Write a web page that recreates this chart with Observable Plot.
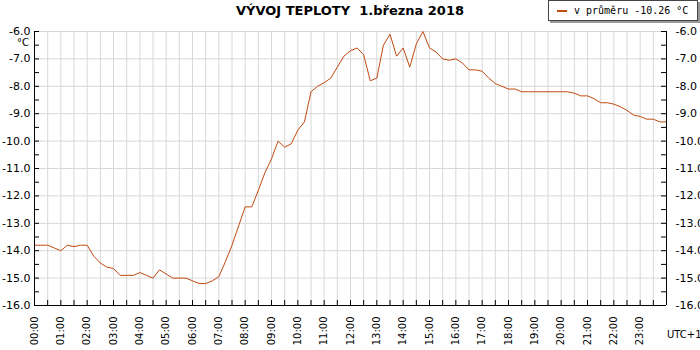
<!DOCTYPE html>
<html><head><meta charset="utf-8">
<script src="https://cdn.jsdelivr.net/npm/d3@7"></script>
<script src="https://cdn.jsdelivr.net/npm/@observablehq/plot@0.6"></script>
<style>
body{margin:0;background:#fff;}
#wrap{position:relative;width:700px;height:350px;overflow:hidden;font-family:"DejaVu Sans",sans-serif;color:#000;}
#title{position:absolute;left:0;width:700px;top:3px;text-align:center;font-weight:bold;font-size:13px;white-space:pre;}
#legend{position:absolute;left:548px;top:0;width:148px;height:19px;border:1px solid #444;background:#fff;box-shadow:2px 2px 0 #999;font-family:"DejaVu Sans Mono",monospace;font-size:10px;line-height:19px;white-space:pre;}
#legend .sw{display:inline-block;width:10px;height:2px;background:#c04a10;vertical-align:middle;margin:0 7px 0 8px;}
#unit{position:absolute;left:17px;top:38px;font-size:10px;line-height:10px;}
#utc{position:absolute;left:667px;top:329px;font-size:10px;}
#plot{position:absolute;left:0;top:0;}
</style></head>
<body>
<div id="wrap">
  <div id="plot"></div>
  <div id="title">VÝVOJ TEPLOTY  1.března 2018</div>
  <div id="legend"><span class="sw"></span>v průměru -10.26 °C</div>
  <div id="unit">°C</div>
  <div id="utc">UTC+1</div>
</div>
<script>
const times = ["00:00","00:15","00:30","00:45","01:00","01:15","01:30","01:45","02:00","02:15","02:30","02:45",
"03:00","03:15","03:30","03:45","04:00","04:15","04:30","04:45","05:00","05:15","05:30","05:45",
"06:00","06:15","06:30","06:45","07:00","07:15","07:30","07:45","08:00","08:15","08:30","08:45",
"09:00","09:15","09:30","09:45","10:00","10:15","10:30","10:45","11:00","11:15","11:30","11:45",
"12:00","12:15","12:30","12:45","13:00","13:15","13:30","13:45","14:00","14:15","14:30","14:45",
"15:00","15:15","15:30","15:45","16:00","16:15","16:30","16:45","17:00","17:15","17:30","17:45",
"18:00","18:15","18:30","18:45","19:00","19:15","19:30","19:45","20:00","20:15","20:30","20:45",
"21:00","21:15","21:30","21:45","22:00","22:15","22:30","22:45","23:00","23:15","23:30","23:45","24:00"];
const temps = [-13.8,-13.8,-13.8,-13.9,-14.0,-13.8,-13.85,-13.8,-13.8,-14.2,-14.45,-14.6,
-14.65,-14.9,-14.9,-14.9,-14.8,-14.9,-15.0,-14.7,-14.85,-15.0,-15.0,-15.0,
-15.1,-15.2,-15.2,-15.1,-14.95,-14.4,-13.8,-13.1,-12.4,-12.4,-11.8,-11.15,
-10.65,-10.0,-10.22,-10.1,-9.6,-9.3,-8.2,-8.0,-7.87,-7.7,-7.3,-6.9,
-6.7,-6.6,-6.85,-7.8,-7.7,-6.5,-6.1,-6.9,-6.6,-7.3,-6.45,-6.0,
-6.6,-6.75,-7.0,-7.05,-7.0,-7.15,-7.4,-7.4,-7.45,-7.7,-7.9,-8.0,
-8.1,-8.1,-8.2,-8.2,-8.2,-8.2,-8.2,-8.2,-8.2,-8.2,-8.25,-8.35,
-8.35,-8.45,-8.6,-8.6,-8.65,-8.75,-8.88,-9.05,-9.1,-9.2,-9.2,-9.3,-9.3];
const xTickLabels = ["00:00","01:00","02:00","03:00","04:00","05:00","06:00","07:00","08:00","09:00","10:00","11:00",
"12:00","13:00","14:00","15:00","16:00","17:00","18:00","19:00","20:00","21:00","22:00","23:00"];
const yTickLabels = ["-6.0","-7.0","-8.0","-9.0","-10.0","-11.0","-12.0","-13.0","-14.0","-15.0","-16.0"];
const halfHourLabels = times.filter(t => t.endsWith(":00") || t.endsWith(":30"));
const lineColor = "#c04a10";

const toH = s => { const [h, m] = s.split(":").map(Number); return h + m / 60; };
const data = times.map((t, i) => ({h: toH(t), t: temps[i]}));
const xTicks = xTickLabels.map(toH);
const yTicks = yTickLabels.map(Number);
const halfHours = halfHourLabels.map(toH).filter(h => h > 0 && h < 24);
const yMinor = [];
yTicks.forEach(v => { yMinor.push(v); if (v > -16) yMinor.push(v - 0.5); });

const W = 700, H = 350, mL = 34, mR = 34, mT = 31, mB = 45;
const fw = W - mL - mR, fh = H - mT - mB;

const chart = Plot.plot({
  width: W, height: H,
  marginLeft: mL, marginRight: mR, marginTop: mT, marginBottom: mB,
  style: {fontFamily: "DejaVu Sans, sans-serif", background: "#fff", color: "#000"},
  x: {domain: [0, 24], axis: null},
  y: {domain: [-16, -6], axis: null},
  marks: [
    Plot.gridY(yTicks, {stroke: "#d8d8d8", strokeOpacity: 1, strokeWidth: 1}),
    Plot.gridX(halfHours, {stroke: "#d8d8d8", strokeOpacity: 1, strokeWidth: 1}),
    Plot.line(data, {x: "h", y: "t", stroke: lineColor, strokeWidth: 1}),
    Plot.ruleX([0, 24], {stroke: "#000"}),
    Plot.ruleY([-16], {stroke: "#000"}),
    Plot.tickY(yMinor, {stroke: "#000", insetRight: fw - 5}),
    Plot.tickY(yMinor, {stroke: "#000", insetLeft: fw - 5}),
    Plot.tickX(halfHours, {stroke: "#000", insetTop: fh - 5}),
    Plot.axisY(yTicks, {anchor: "left", label: null, tickSize: 0, tickPadding: 4, fontSize: 11,
      tickFormat: (d, i) => yTickLabels[i]}),
    Plot.axisY(yTicks, {anchor: "right", label: null, tickSize: 0, tickPadding: 9, fontSize: 11,
      tickFormat: (d, i) => yTickLabels[i]}),
    Plot.axisX(xTicks, {anchor: "bottom", label: null, tickSize: 0, tickPadding: 11, tickRotate: -90, fontSize: 10,
      tickFormat: (d, i) => xTickLabels[i]})
  ]
});
document.getElementById("plot").appendChild(chart);
</script>
</body></html>
